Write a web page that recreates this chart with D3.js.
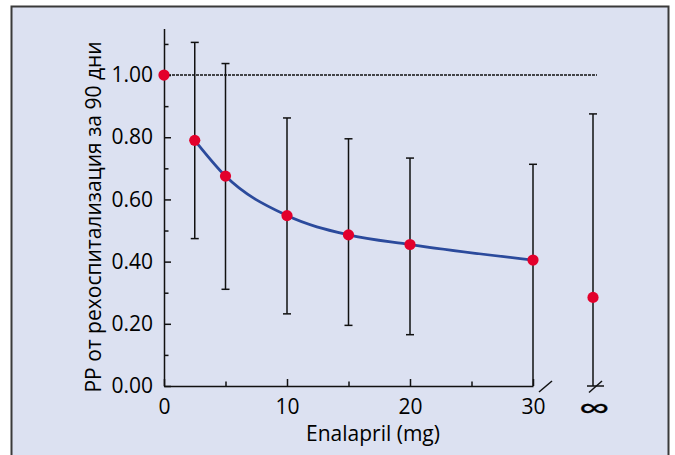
<!DOCTYPE html>
<html lang="bg">
<head>
<meta charset="utf-8">
<script src="https://cdn.jsdelivr.net/npm/d3@7"></script>
<style>
  body { margin: 0; background: #fff; }
  text { font-family: "Open Sans", "Noto Sans", sans-serif; fill: #000; }
</style>
</head>
<body>
<script>
// dose groups (mg), Infinity = the "∞" group past the axis break
var doses = [0, 2.5, 5, 10, 15, 20, 30, Infinity];
var rr = [1.00, 0.79, 0.675, 0.548, 0.486, 0.455, 0.405, 0.285];
var ciLow = [null, 0.474, 0.311, 0.232, 0.195, 0.165, 0.0, 0.0];
var ciHigh = [null, 1.105, 1.037, 0.862, 0.795, 0.733, 0.713, 0.875];
var yMajor = [0, 0.2, 0.4, 0.6, 0.8, 1.0];
var yMinor = [0.1, 0.3, 0.5, 0.7, 0.9, 1.1];
var xMajor = [0, 10, 20, 30];
var xMinor = [5, 15, 25];

var W = 675, H = 455;
var svg = d3.select('body').append('svg').attr('width', W).attr('height', H);

svg.append('rect').attr('x', 11.5).attr('y', 6.5).attr('width', 657).attr('height', 470)
  .attr('fill', '#dce1f1').attr('stroke', '#3a3a3a').attr('stroke-width', 2);

var x = d3.scaleLinear().domain([0, 30]).range([164, 533]);
var y = d3.scaleLinear().domain([0, 1.15]).range([386, 28.4]);
var infX = 593;
var xPos = function(d) { return isFinite(d) ? x(d) : infX; };

var g = svg.append('g');

// y axis
g.append('g').attr('transform', 'translate(' + x(0) + ',0)')
  .call(d3.axisLeft(y).tickValues(yMajor).tickFormat(d3.format('.2f'))
    .tickSize(-7).tickSizeOuter(0).tickPadding(11));
g.append('g').attr('transform', 'translate(' + x(0) + ',0)')
  .call(d3.axisLeft(y).tickValues(yMinor).tickFormat('').tickSize(-4.5).tickSizeOuter(0))
  .select('.domain').remove();

// x axis
g.append('g').attr('transform', 'translate(0,' + y(0) + ')')
  .call(d3.axisBottom(x).tickValues(xMajor).tickFormat(d3.format('d'))
    .tickSize(-7).tickSizeOuter(0).tickPadding(13));
g.append('g').attr('transform', 'translate(0,' + y(0) + ')')
  .call(d3.axisBottom(x).tickValues(xMinor).tickFormat('').tickSize(-4.5).tickSizeOuter(0))
  .select('.domain').remove();

g.selectAll('.domain, .tick line').attr('stroke', '#111').attr('stroke-width', 1.5);
g.selectAll('.tick text').attr('font-size', 21).attr('font-family', '"Open Sans", sans-serif').attr('fill', '#000');

// axis break marks
var y0 = y(0);
g.append('line').attr('x1', x(30) + 6).attr('y1', y0 + 6).attr('x2', x(30) + 19).attr('y2', y0 - 5)
  .attr('stroke', '#111').attr('stroke-width', 1.5);
g.append('line').attr('x1', infX - 6).attr('y1', y0).attr('x2', infX + 11).attr('y2', y0)
  .attr('stroke', '#111').attr('stroke-width', 1.5);
g.append('line').attr('x1', infX - 4).attr('y1', y0 + 6.5).attr('x2', infX + 9).attr('y2', y0 - 5)
  .attr('stroke', '#111').attr('stroke-width', 1.5);
g.append('text').attr('transform', 'translate(' + (infX + 1) + ',' + (y0 + 21) + ') scale(1.45,1)')
  .attr('text-anchor', 'middle').attr('dominant-baseline', 'central')
  .attr('font-family', '"DejaVu Sans", sans-serif').attr('font-size', 30)
  .attr('stroke', '#000').attr('stroke-width', 0.3).text('∞');

// reference line at 1.00
g.append('line').attr('x1', x(0)).attr('x2', infX + 4).attr('y1', y(1)).attr('y2', y(1))
  .attr('stroke', '#111').attr('stroke-width', 1.6).attr('stroke-dasharray', '3,1');

// error bars
var bars = d3.range(doses.length).filter(function(i) { return ciHigh[i] !== null; });
var eb = g.append('g').attr('stroke', '#111').attr('stroke-width', 1.5);
bars.forEach(function(i) {
  var cx = xPos(doses[i]);
  eb.append('line').attr('x1', cx).attr('x2', cx).attr('y1', y(ciLow[i])).attr('y2', y(ciHigh[i]));
  eb.append('line').attr('x1', cx - 4).attr('x2', cx + 4).attr('y1', y(ciHigh[i])).attr('y2', y(ciHigh[i]));
  if (ciLow[i] > 0) {
    eb.append('line').attr('x1', cx - 4).attr('x2', cx + 4).attr('y1', y(ciLow[i])).attr('y2', y(ciLow[i]));
  }
});

// fitted curve (2.5 .. 30 mg)
var curvePts = d3.range(1, 7).map(function(i) { return [x(doses[i]), y(rr[i])]; });
g.append('path').attr('d', d3.line().curve(d3.curveMonotoneX)(curvePts))
  .attr('fill', 'none').attr('stroke', '#2b4a9c').attr('stroke-width', 2.8);

// points
g.selectAll('circle.pt').data(doses).enter().append('circle').attr('class', 'pt')
  .attr('cx', function(d) { return xPos(d); })
  .attr('cy', function(d, i) { return y(rr[i]); })
  .attr('r', 5.6).attr('fill', '#e3002b');

// axis titles
svg.append('text').attr('x', 373).attr('y', 441).attr('text-anchor', 'middle')
  .attr('font-size', 21).text('Enalapril (mg)');
svg.append('text').attr('transform', 'translate(101,217) rotate(-90)').attr('text-anchor', 'middle')
  .attr('font-size', 21).attr('lang', 'bg').text('РР от рехоспитализация за 90 дни');
</script>
</body>
</html>
